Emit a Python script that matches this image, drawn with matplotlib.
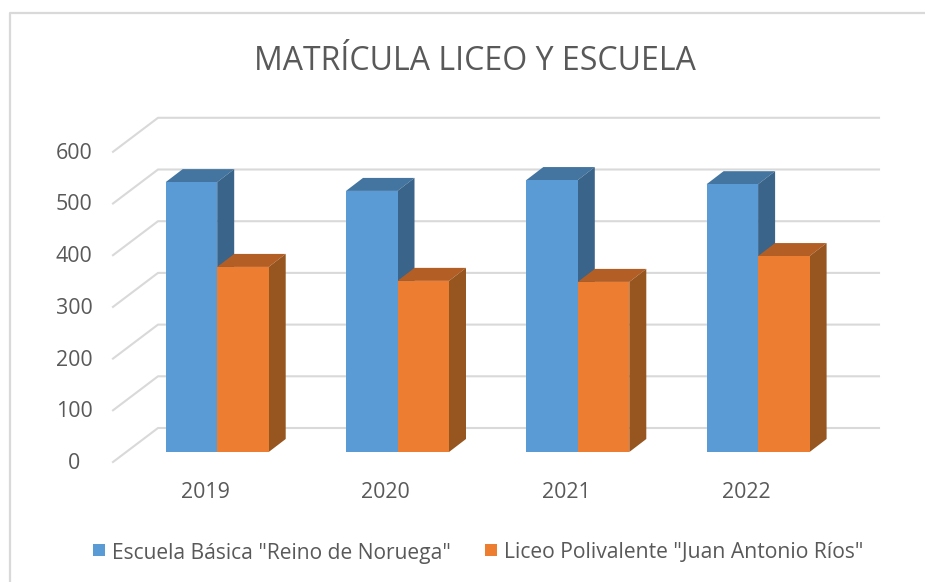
import matplotlib
matplotlib.use("Agg")
import matplotlib.pyplot as plt
from matplotlib.patches import Polygon, Rectangle

years = ["2019", "2020", "2021", "2022"]
escuela = [522, 505, 526, 518]
liceo = [358, 331, 329, 379]
y_ticks = [0, 100, 200, 300, 400, 500, 600]
series_names = ['Escuela Básica "Reino de Noruega"', 'Liceo Polivalente "Juan Antonio Ríos"']

plt.rcParams['font.family'] = ['Open Sans', 'DejaVu Sans']

W, H = 925, 582
PX_X = 180.3   # pixels per category
PX_Y = 0.517   # pixels per unit
X0, Y0 = 217.2, 452   # pixel position of first group centre / bar baseline

fig = plt.figure(figsize=(W / 100, H / 100), dpi=100)
ax = fig.add_axes([0, 0, 1, 1])
ax.set_xlim(-X0 / PX_X, (W - X0) / PX_X)
ax.set_ylim((Y0 - H) / PX_Y, Y0 / PX_Y)
ax.axis('off')

def dx(p):
    return p / PX_X

def dy(p):
    return p / PX_Y

grid = '#d9d9d9'
text_col = '#595959'

# chart frame, only top and left show up
ax.plot([dx(9.5 - X0), dx(9.5 - X0), dx(W - X0)], [dy(Y0 - H), dy(Y0 - 12.5), dy(Y0 - 12.5)],
        color='#d9d9d9', lw=1.6, zorder=1)

# walls
for v in y_ticks:
    ax.plot([dx(113 - X0), dx(158 - X0), dx(879 - X0)],
            [v + dy(-10), v + dy(24), v + dy(24)], color=grid, lw=1.5, zorder=1)
    ax.text(dx(74 - X0), v + dy(-11.5), str(v), ha='center', va='center', fontsize=15.4, color=text_col)

bar_w = 51.5 / PX_X
depth_x, depth_y = dx(17), dy(13)

def bar3d(left, value, front, top, side):
    ax.bar(left, value, width=bar_w, align='edge', color=front, lw=0, zorder=3)
    right = left + bar_w
    ax.add_patch(Polygon([(left, value), (right, value), (right + depth_x, value + depth_y),
                          (left + depth_x, value + depth_y)], color=top, lw=0, zorder=2))
    ax.add_patch(Polygon([(right, 0), (right, value), (right + depth_x, value + depth_y),
                          (right + depth_x, depth_y)], color=side, lw=0, zorder=2))

for i in range(len(years)):
    bar3d(i - bar_w, escuela[i], '#5b9bd5', '#4375a0', '#3a6489')
    bar3d(i, liceo[i], '#ed7d31', '#b35e25', '#97561f')
    ax.text(i - 0.065, dy(-41), years[i], ha='center', va='center', fontsize=15.4, color=text_col)

ax.text(dx(474.5 - X0), dy(Y0 - 62), "MATRÍCULA LICEO Y ESCUELA", ha='center', va='center',
        fontsize=23, color=text_col)

# legend
sq = 12
for px, col, name, size in [(93, '#5b9bd5', series_names[0], 15.1), (485, '#ed7d31', series_names[1], 15.2)]:
    ax.add_patch(Rectangle((dx(px - X0), dy(Y0 - 556)), dx(sq), dy(sq), color=col, lw=0))
    ax.text(dx(px + 19 - X0), dy(Y0 - 553), name, ha='left', va='center', fontsize=size, color=text_col)

fig.savefig('out.png', dpi=100)
